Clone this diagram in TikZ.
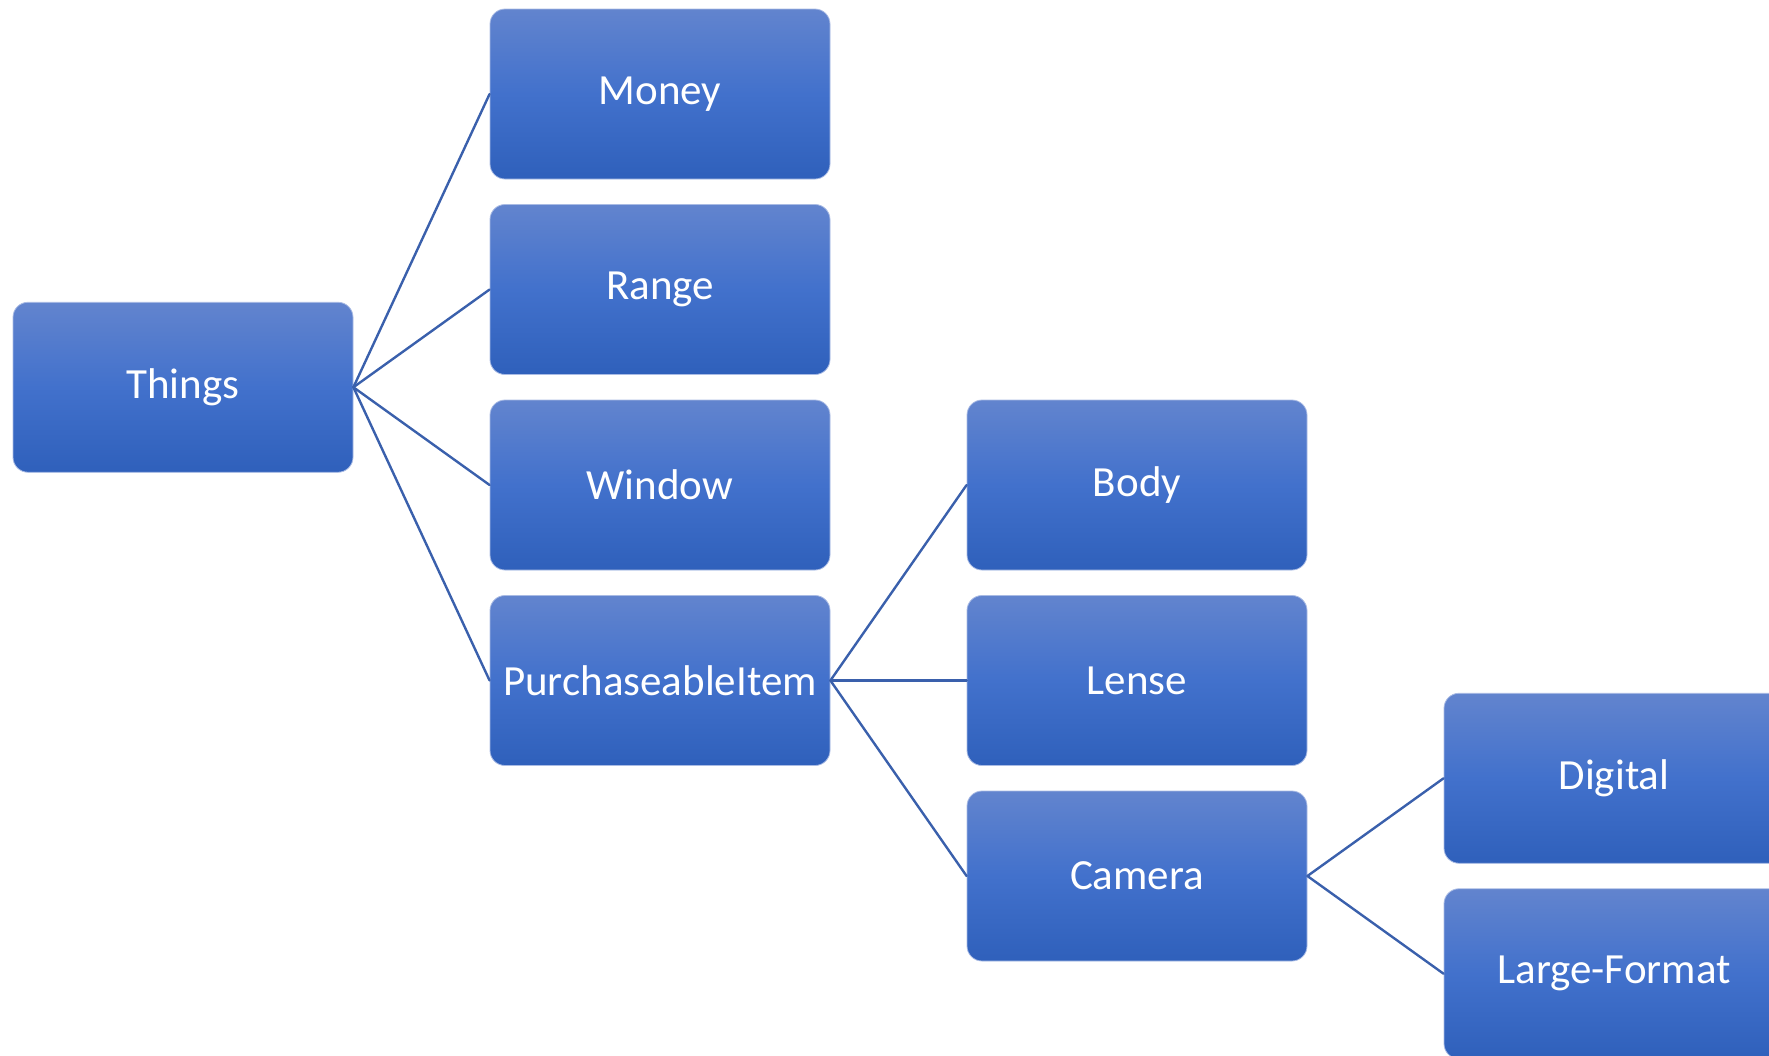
\documentclass[tikz,border=0pt]{standalone}
\usepackage{fontspec}
\setmainfont{Carlito}
\definecolor{boxtop}{RGB}{98,132,206}
\definecolor{boxmid}{RGB}{66,113,204}
\definecolor{boxbot}{RGB}{47,96,187}
\definecolor{linkblue}{RGB}{58,96,172}
\tikzset{
  item/.style={rectangle, rounded corners=7.5pt, minimum width=170pt, minimum height=85pt,
    inner sep=0pt, top color=boxtop, bottom color=boxbot, middle color=boxmid,
    draw=boxtop!55!white, line width=0.4pt, text=white, font=\fontsize{21.5}{26}\selectfont},
  link/.style={draw=linkblue, line width=1.2pt}
}
\begin{document}
\begin{tikzpicture}[x=0.5pt, y=-0.5pt, line join=round, line cap=round]
% Khung hình
\useasboundingbox (0,0) rectangle (1769,1056);
% Khoảng cách cột và hàng
\def\colw{477}
\def\rowh{195.5}
\def\xa{183}
\def\ya{94}
% Gốc
\node[item] (things) at (\xa, \ya+1.5*\rowh) {Things};
% Cột thứ hai
\node[item] (money) at (\xa+\colw, \ya) {Money};
\node[item] (range) at (\xa+\colw, \ya+\rowh) {Range};
\node[item] (window) at (\xa+\colw, \ya+2*\rowh) {Window};
\node[item] (purchase) at (\xa+\colw, \ya+3*\rowh) {PurchaseableItem};
% Cột thứ ba
\node[item] (body) at (\xa+2*\colw, \ya+2*\rowh) {Body};
\node[item] (lense) at (\xa+2*\colw, \ya+3*\rowh) {Lense};
\node[item] (camera) at (\xa+2*\colw, \ya+4*\rowh) {Camera};
% Cột thứ tư
\node[item] (digital) at (\xa+3*\colw, \ya+3.5*\rowh) {Digital};
\node[item] (large) at (\xa+3*\colw, \ya+4.5*\rowh) {Large-Format};
% Đường nối
\draw[link] (things.east) -- (money.west);
\draw[link] (things.east) -- (range.west);
\draw[link] (things.east) -- (window.west);
\draw[link] (things.east) -- (purchase.west);
\draw[link] (purchase.east) -- (body.west);
\draw[link] (purchase.east) -- (lense.west);
\draw[link] (purchase.east) -- (camera.west);
\draw[link] (camera.east) -- (digital.west);
\draw[link] (camera.east) -- (large.west);
\end{tikzpicture}
\end{document}
